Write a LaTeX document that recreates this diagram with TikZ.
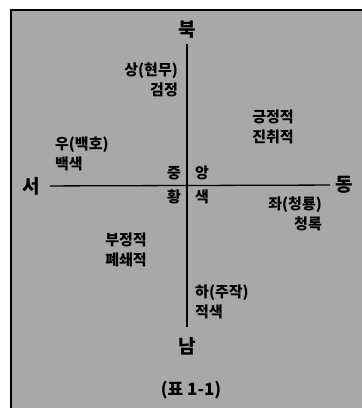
\documentclass[tikz,border=0pt]{standalone}
\usepackage{fontspec}
\setmainfont{Noto Sans CJK KR}
\usepackage{xcolor}
\usepackage{tikz}
\usetikzlibrary{positioning}
\definecolor{mygray}{gray}{0.66}
\tikzstyle{compass} = [font=\fontsize{19}{19}\selectfont\bfseries, inner sep=1pt]
\tikzstyle{note} = [font=\fontsize{15}{20}\selectfont\bfseries, inner sep=1pt]
\tikzstyle{axis} = [line width=1.3pt]

\begin{document}
\begin{tikzpicture}[x=1pt, y=-1pt]
    \useasboundingbox (0,0) rectangle (362,408);
    \clip (0,0) rectangle (362,408);
    \draw[line width=2.5pt, fill=mygray] (11,10) rectangle (390,430);
    % compass points
    \node (n) [compass] at (187,30) {북};
    \node (s) [compass] at (187,346) {남};
    \node (w) [compass] at (31,186) {서};
    \node (e) [compass] at (344,185) {동};
    \coordinate (o) at (187,184);
    \draw[axis, shorten <=4pt, shorten >=9pt] (n) -- (s);
    \draw[axis, shorten <=9pt, shorten >=4pt] (w) -- (e);
    % labels
    \node (hm) [note, anchor=east, align=right] at (179,80) {상(현무)\\검정};
    \node (gj) [note, align=center] at (273,127) {긍정적\\진취적};
    \node (bh) [note, anchor=west, align=left] at (54,154) {우(백호)\\백색};
    \node (cr) [note, anchor=east, align=right] at (323,214) {좌(청룡)\\청록};
    \node (bj) [note, align=center] at (126,250) {부정적\\폐쇄적};
    \node (jj) [note, anchor=west, align=left] at (194,302) {하(주작)\\적색};
    \node (jg) [note, above left=3pt and 5pt of o] {중};
    \node (ag) [note, above right=3pt and 7pt of o] {앙};
    \node (hw) [note, below left=5pt and 5pt of o] {황};
    \node (sk) [note, below right=5pt and 7pt of o] {색};
    \node (cap) [font=\fontsize{17}{17}\selectfont\bfseries] at (191,390) {(표 1-1)};
\end{tikzpicture}
\end{document}
